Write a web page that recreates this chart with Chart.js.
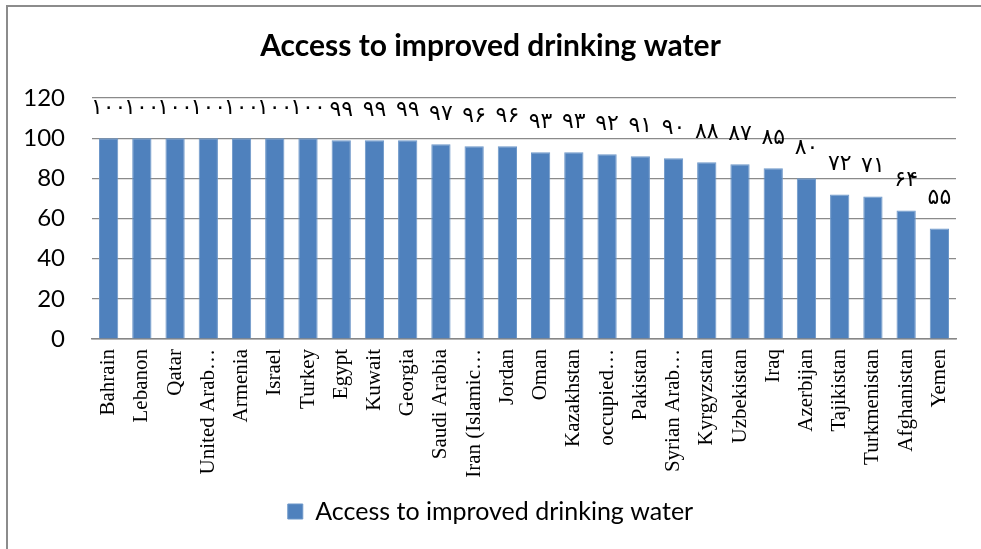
<!DOCTYPE html>
<html>
<head>
<meta charset="utf-8">
<title>Access to improved drinking water</title>
<script src="https://cdn.jsdelivr.net/npm/chart.js@4.4.0/dist/chart.umd.min.js"></script>
<style>
  html, body { margin: 0; padding: 0; background: #fff; }
  canvas { display: block; }
</style>
</head>
<body>
<canvas id="myChart" width="981" height="549"></canvas>
<script>
const countries = [
  "Bahrain", "Lebanon", "Qatar", "United Arab Emirates", "Armenia", "Israel",
  "Turkey", "Egypt", "Kuwait", "Georgia", "Saudi Arabia",
  "Iran (Islamic Republic of)", "Jordan", "Oman", "Kazakhstan",
  "occupied Palestinian territory", "Pakistan", "Syrian Arab Republic",
  "Kyrgyzstan", "Uzbekistan", "Iraq", "Azerbijan", "Tajikistan",
  "Turkmenistan", "Afghanistan", "Yemen"
];
const access = [
  100, 100, 100, 100, 100, 100, 100, 99, 99, 99, 97, 96, 96, 93, 93,
  92, 91, 90, 88, 87, 85, 80, 72, 71, 64, 55
];
const yTicks = [0, 20, 40, 60, 80, 100, 120];
const persianDigits = ["۰", "۱", "۲", "۳", "۴", "۵", "۶", "۷", "۸", "۹"];

const toPersian = (n) => String(n).split("").map((d) => persianDigits[+d]).join("");

// cut long category names at a word and add an ellipsis, like the original
const measureCtx = document.createElement("canvas").getContext("2d");
measureCtx.font = "21px 'Liberation Serif'";
const shorten = (name) => {
  const maxW = 132;
  if (measureCtx.measureText(name).width <= maxW) return name;
  const words = name.split(" ");
  let out = words[0];
  for (let i = 1; i < words.length; i++) {
    const next = out + " " + words[i];
    if (measureCtx.measureText(next + "…").width > maxW) break;
    out = next;
  }
  return out + "…";
};

const frame = {
  id: "frame",
  beforeDraw(chart) {
    const ctx = chart.ctx;
    ctx.save();
    ctx.fillStyle = "#ffffff";
    ctx.fillRect(0, 0, chart.width, chart.height);
    ctx.strokeStyle = "#8c8c8c";
    ctx.lineWidth = 2;
    ctx.strokeRect(7, 6, chart.width + 20, chart.height + 20);
    ctx.restore();
  },
};

const valueLabels = {
  id: "valueLabels",
  afterDatasetsDraw(chart) {
    const ctx = chart.ctx;
    const meta = chart.getDatasetMeta(0);
    const yScale = chart.scales.y;
    ctx.save();
    ctx.font = "22px 'DejaVu Sans'";
    ctx.fillStyle = "#000";
    ctx.textAlign = "center";
    ctx.textBaseline = "middle";
    meta.data.forEach((bar, i) => {
      const v = chart.data.datasets[0].data[i];
      ctx.fillText(toPersian(v), bar.x, yScale.getPixelForValue(v) - 30);
    });
    ctx.restore();
  },
};

new Chart(document.getElementById("myChart"), {
  type: "bar",
  data: {
    labels: countries,
    datasets: [
      {
        label: "Access to improved drinking water",
        data: access,
        backgroundColor: "#4f81bd",
        borderColor: "#6d97c9",
        borderWidth: 1,
        categoryPercentage: 1,
        barPercentage: 0.58,
      },
    ],
  },
  options: {
    responsive: false,
    animation: false,
    layout: { padding: { left: 25, right: 25, top: 0, bottom: 15 } },
    plugins: {
      title: {
        display: true,
        text: "Access to improved drinking water",
        color: "#000",
        font: { family: "Lato", size: 30, weight: "bold" },
        padding: { top: 28, bottom: 34 },
      },
      legend: {
        position: "bottom",
        labels: {
          color: "#000",
          font: { family: "Lato", size: 25 },
          boxWidth: 15,
          boxHeight: 15,
          padding: 10,
        },
      },
      tooltip: { enabled: false },
    },
    scales: {
      x: {
        grid: { display: false, drawTicks: false },
        border: { display: true, color: "#868686", width: 1.5 },
        ticks: {
          color: "#000",
          font: { family: "Liberation Serif", size: 21 },
          minRotation: 90,
          maxRotation: 90,
          padding: 10,
          autoSkip: false,
          callback: (value, i) => shorten(countries[i]),
        },
        afterFit: (scale) => { scale.height = 150; },
      },
      y: {
        min: 0,
        max: 120,
        afterBuildTicks: (scale) => { scale.ticks = yTicks.map((v) => ({ value: v })); },
        grid: { color: "#8a8a8a", lineWidth: 1.2, drawTicks: false },
        border: { display: false },
        ticks: {
          color: "#000",
          font: { family: "Lato", size: 24 },
          padding: 27,
        },
        afterFit: (scale) => { scale.width = 67; },
      },
    },
  },
  plugins: [frame, valueLabels],
});
</script>
</body>
</html>
